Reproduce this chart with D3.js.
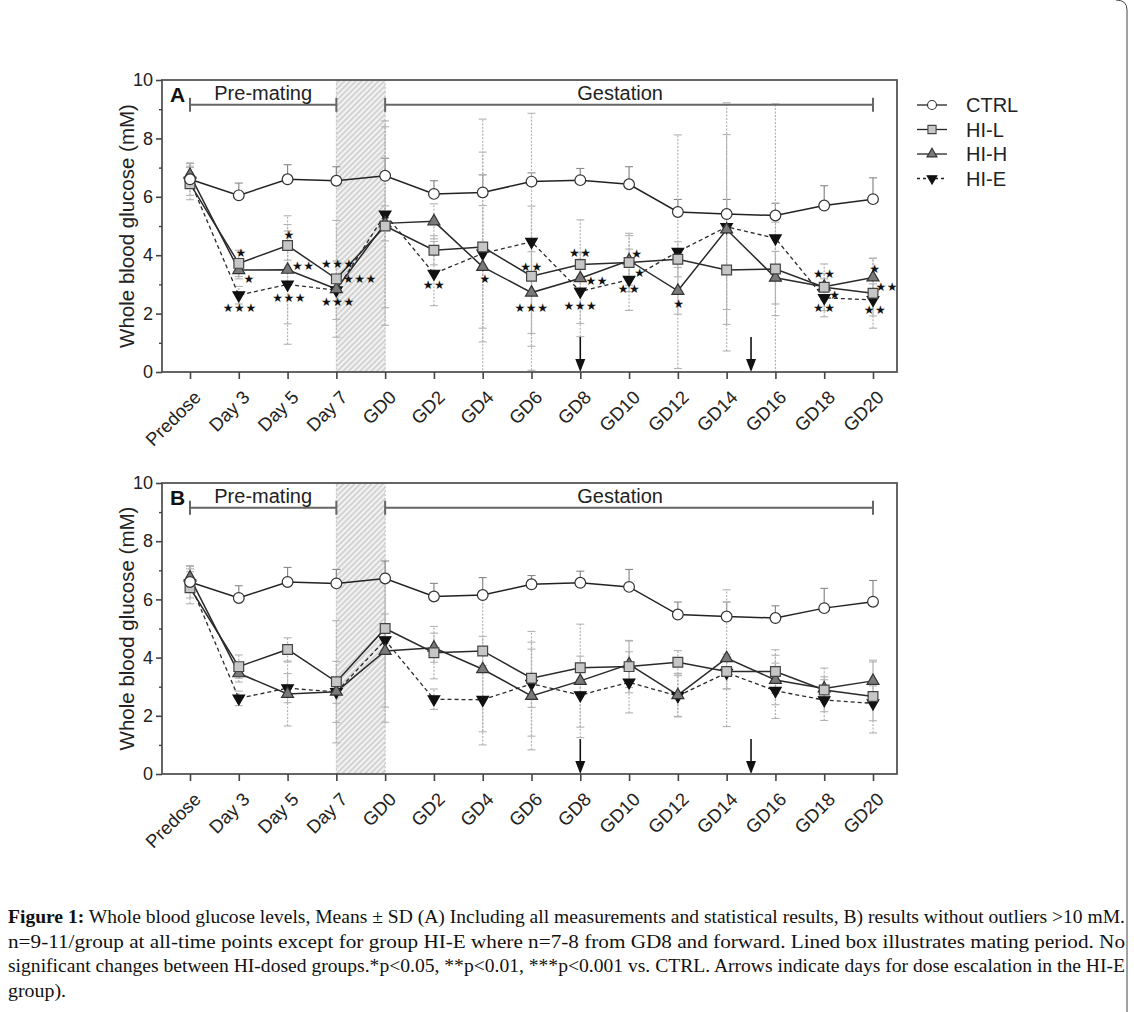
<!DOCTYPE html>
<html>
<head>
<meta charset="utf-8">
<script src="https://cdn.jsdelivr.net/npm/d3@7"></script>
<style>
body { margin: 0; background: #fff; }
svg { display: block; }
</style>
</head>
<body>
<script>
// time points
var categories = ["Predose", "Day 3", "Day 5", "Day 7", "GD0", "GD2", "GD4", "GD6", "GD8", "GD10", "GD12", "GD14", "GD16", "GD18", "GD20"];

// CTRL (same in A and B)
var ctrlMean = [6.6, 6.05, 6.6, 6.55, 6.72, 6.1, 6.15, 6.52, 6.57, 6.43, 5.48, 5.41, 5.36, 5.7, 5.92];
var ctrlSd   = [0.55, 0.42, 0.5, 0.48, 0.6, 0.45, 0.6, 0.3, 0.4, 0.6, 0.43, 0.5, 0.42, 0.68, 0.73];

// panel A, all measurements
var hiLMeanA = [6.45, 3.72, 4.33, 3.19, 5.0, 4.17, 4.28, 3.28, 3.68, 3.75, 3.86, 3.49, 3.53, 2.9, 2.7];
var hiLSdA   = [0.55, 0.45, 0.5, 2.0, 3.4, 0.5, 3.25, 2.4, 0.4, 1.0, 0.6, 1.35, 1.6, 0.8, 1.2];
var hiHMeanA = [6.75, 3.49, 3.5, 2.84, 5.09, 5.16, 3.6, 2.72, 3.21, 3.82, 2.78, 4.88, 3.23, 2.92, 3.24];
var hiHSdA   = [0.4, 0.3, 1.85, 0.4, 0.6, 0.6, 2.1, 1.4, 2.0, 0.85, 0.8, 3.25, 0.9, 0.45, 0.65];
var hiEMeanA = [6.55, 2.63, 3.0, 2.8, 5.4, 3.37, 4.06, 4.46, 2.76, 3.16, 4.12, 4.97, 4.58, 2.54, 2.47];
var hiESdA   = [0.5, 0.3, 2.05, 1.0, 3.2, 1.1, 4.6, 4.4, 1.1, 1.05, 4.0, 4.25, 4.6, 0.65, 0.55];

// panel B, outliers >10 mM removed
var hiLMeanB = [6.4, 3.69, 4.28, 3.17, 5.0, 4.17, 4.23, 3.29, 3.65, 3.69, 3.84, 3.52, 3.52, 2.89, 2.66];
var hiLSdB   = [0.55, 0.4, 0.4, 2.1, 0.5, 0.9, 0.5, 1.0, 0.4, 0.9, 0.4, 0.6, 0.75, 0.75, 1.25];
var hiHMeanB = [6.75, 3.46, 2.75, 2.83, 4.23, 4.34, 3.6, 2.68, 3.2, 3.77, 2.71, 3.98, 3.23, 2.94, 3.2];
var hiHSdB   = [0.4, 0.3, 1.1, 0.4, 2.45, 0.5, 2.6, 1.85, 1.95, 0.8, 0.75, 2.35, 0.85, 0.4, 0.65];
var hiEMeanB = [6.55, 2.6, 2.95, 2.82, 4.6, 2.57, 2.55, 3.1, 2.71, 3.15, 2.68, 3.48, 2.86, 2.54, 2.43];
var hiESdB   = [0.5, 0.25, 0.5, 1.05, 2.3, 0.35, 1.1, 1.8, 1.1, 1.05, 0.7, 0.55, 0.95, 0.7, 0.6];

// significance marks in A: [time point index, glucose value, label]
var starsA = [
  [1.05, 4.09, "*"], [1.21, 3.2, "*"], [1.02, 2.2, "***"],
  [2.03, 4.71, "*"], [2.32, 3.66, "**"], [2.03, 2.57, "***"],
  [3.03, 3.72, "***"], [3.48, 3.2, "***"], [3.03, 2.41, "***"],
  [5.0, 3.01, "**"], [6.05, 3.2, "*"],
  [7.0, 3.63, "**"], [7.0, 2.21, "***"],
  [8.0, 4.09, "**"], [8.34, 3.13, "**"], [8.0, 2.29, "***"],
  [9.16, 4.06, "*"], [9.22, 3.4, "*"], [9.0, 2.87, "**"],
  [10.02, 2.35, "*"],
  [13.0, 3.36, "**"], [13.22, 2.64, "*"], [13.0, 2.21, "**"],
  [14.04, 3.55, "*"], [14.28, 2.92, "**"], [14.04, 2.15, "**"]
];

// dose escalation arrows (time point index), mating period, study periods
var arrowDays = [8, 11.5];
var matingSpan = [3, 4];
var periods = [["Pre-mating", 0, 3], ["Gestation", 4, 14]];
var seriesNames = ["CTRL", "HI-L", "HI-H", "HI-E"];

var captionLines = [
  "Whole blood glucose levels, Means \u00b1 SD (A) Including all measurements and statistical results, B) results without outliers >10 mM.",
  "n=9-11/group at all-time points except for group HI-E where n=7-8 from GD8 and forward. Lined box illustrates mating period. No",
  "significant changes between HI-dosed groups.*p<0.05, **p<0.01, ***p<0.001 vs. CTRL. Arrows indicate days for dose escalation in the HI-E",
  "group)."
];

var sans = "'Liberation Sans', Arial, sans-serif";
var w = 1134, h = 1012;
var left = 162, right = 897;

var style = {
  "CTRL": { sym: d3.symbolCircle, size: 90, fill: "#fff", stroke: "#333", dash: null, rot: 0 },
  "HI-L": { sym: d3.symbolSquare, size: 95, fill: "#c6c6c6", stroke: "#444", dash: null, rot: 0 },
  "HI-H": { sym: d3.symbolTriangle, size: 62, fill: "#7a7a7a", stroke: "#333", dash: null, rot: 0 },
  "HI-E": { sym: d3.symbolTriangle, size: 58, fill: "#111", stroke: "#111", dash: "4,3", rot: 180 }
};

var svg = d3.select("body").append("svg").attr("width", w).attr("height", h);
var defs = svg.append("defs");

var pat = defs.append("pattern").attr("id", "hatch")
  .attr("patternUnits", "userSpaceOnUse").attr("width", 4).attr("height", 4)
  .attr("patternTransform", "rotate(45)");
pat.append("rect").attr("width", 4).attr("height", 4).attr("fill", "#f3f3f3");
pat.append("line").attr("x1", 1).attr("y1", 0).attr("x2", 1).attr("y2", 4)
  .attr("stroke", "#b4b4b4").attr("stroke-width", 1);

var x = d3.scalePoint().domain(categories).range([190, 873]);
function ix(i) { return x(categories[0]) + i * x.step(); }

function drawPanel(top, bottom, label, data, stars) {
  var y = d3.scaleLinear().domain([0, 10]).range([bottom, top]);
  var g = svg.append("g");

  defs.append("clipPath").attr("id", "clip" + label)
    .append("rect").attr("x", left).attr("y", top).attr("width", right - left).attr("height", bottom - top);

  // mating period box
  g.append("rect")
    .attr("x", ix(matingSpan[0])).attr("y", top)
    .attr("width", ix(matingSpan[1]) - ix(matingSpan[0])).attr("height", bottom - top)
    .attr("fill", "url(#hatch)").attr("stroke", "#bbb").attr("stroke-dasharray", "2,2");

  var inner = g.append("g").attr("clip-path", "url(#clip" + label + ")");

  // error bars
  data.forEach(function(s) {
    var up = s.name == "CTRL";
    s.mean.forEach(function(m, i) {
      var cx = x(categories[i]);
      var lo = up ? m : m - s.sd[i], hi = m + s.sd[i];
      var col = up ? "#888" : "#b3b3b3";
      var dash = up ? null : "2,1.5";
      inner.append("line").attr("x1", cx).attr("x2", cx).attr("y1", y(lo)).attr("y2", y(hi))
        .attr("stroke", col).attr("stroke-width", 1.2).attr("stroke-dasharray", dash);
      var ends = up ? [hi] : [lo, hi];
      ends.forEach(function(v) {
        inner.append("line").attr("x1", cx - 4).attr("x2", cx + 4).attr("y1", y(v)).attr("y2", y(v))
          .attr("stroke", col).attr("stroke-width", 1.1);
      });
    });
  });

  // lines
  var line = d3.line().x(function(d, i) { return x(categories[i]); }).y(function(d) { return y(d); });
  data.slice().reverse().forEach(function(s) {
    var st = style[s.name];
    inner.append("path").attr("d", line(s.mean)).attr("fill", "none")
      .attr("stroke", s.name == "CTRL" ? "#222" : "#2a2a2a")
      .attr("stroke-width", s.name == "HI-E" ? 1.3 : 1.5)
      .attr("stroke-dasharray", st.dash);
  });

  // markers
  data.slice().reverse().forEach(function(s) {
    var st = style[s.name];
    inner.selectAll(null).data(s.mean).enter().append("path")
      .attr("d", d3.symbol().type(st.sym).size(st.size))
      .attr("transform", function(d, i) { return "translate(" + x(categories[i]) + "," + y(d) + ") rotate(" + st.rot + ")"; })
      .attr("fill", st.fill).attr("stroke", st.stroke).attr("stroke-width", 1.2);
  });

  // stars
  g.selectAll(null).data(stars).enter().append("text")
    .attr("x", function(d) { return ix(d[0]); })
    .attr("y", function(d) { return y(d[1]); })
    .attr("dy", "0.38em")
    .attr("text-anchor", "middle")
    .attr("font-family", "'DejaVu Sans', sans-serif")
    .attr("font-size", 12)
    .attr("letter-spacing", 0.5)
    .attr("fill", "#111")
    .text(function(d) { return d[2].replace(/\*/g, "\u2605"); });

  // arrows
  arrowDays.forEach(function(d) {
    var ax = ix(d);
    g.append("line").attr("x1", ax).attr("x2", ax).attr("y1", y(1.2)).attr("y2", bottom - 10)
      .attr("stroke", "#111").attr("stroke-width", 1.6);
    g.append("path").attr("d", "M" + (ax - 5) + "," + (bottom - 13) + "L" + (ax + 5) + "," + (bottom - 13) + "L" + ax + "," + bottom + "Z")
      .attr("fill", "#111");
  });

  // period brackets
  periods.forEach(function(p) {
    var x1 = x(categories[p[1]]), x2 = x(categories[p[2]]), by = y(9.15);
    g.append("line").attr("x1", x1).attr("x2", x2).attr("y1", by).attr("y2", by)
      .attr("stroke", "#666").attr("stroke-width", 2);
    [x1, x2].forEach(function(ex) {
      g.append("line").attr("x1", ex).attr("x2", ex).attr("y1", by - 7).attr("y2", by + 7)
        .attr("stroke", "#666").attr("stroke-width", 2);
    });
    g.append("text").attr("x", (x1 + x2) / 2 - (p[0] == "Gestation" ? 9 : 0)).attr("y", by - 5)
      .attr("text-anchor", "middle").attr("font-family", sans).attr("font-size", 20)
      .attr("fill", "#222").text(p[0]);
  });

  // panel letter
  g.append("text").attr("x", 170).attr("y", top + 22).attr("font-family", sans)
    .attr("font-size", 21).attr("font-weight", "bold").attr("fill", "#111").text(label);

  // frame
  g.append("rect").attr("x", left).attr("y", top).attr("width", right - left).attr("height", bottom - top)
    .attr("fill", "none").attr("stroke", "#555").attr("stroke-width", 1.8);

  // y axis
  var ya = g.append("g").attr("transform", "translate(" + left + ",0)")
    .call(d3.axisLeft(y).tickValues([0, 2, 4, 6, 8, 10]).tickSize(6).tickSizeOuter(0).tickPadding(3));
  ya.select(".domain").remove();
  ya.attr("font-size", 18).attr("font-family", sans);
  ya.selectAll("line").attr("stroke", "#444").attr("stroke-width", 1.6);
  ya.selectAll("text").attr("fill", "#222");
  var ym = g.append("g").attr("transform", "translate(" + left + ",0)")
    .call(d3.axisLeft(y).tickValues([1, 3, 5, 7, 9]).tickSize(3).tickFormat(""));
  ym.select(".domain").remove();
  ym.selectAll("line").attr("stroke", "#444").attr("stroke-width", 1.4);

  g.append("text")
    .attr("transform", "translate(134," + ((top + bottom) / 2) + ") rotate(-90)")
    .attr("text-anchor", "middle").attr("font-family", sans).attr("font-size", 20.5)
    .attr("fill", "#222").text("Whole blood glucose (mM)");

  // x axis
  var xa = g.append("g").attr("transform", "translate(0," + bottom + ")")
    .call(d3.axisBottom(x).tickSize(7).tickSizeOuter(0));
  xa.select(".domain").remove();
  xa.attr("font-size", 18.5).attr("font-family", sans);
  xa.selectAll("line").attr("stroke", "#444").attr("stroke-width", 1.6);
  xa.selectAll("text")
    .attr("x", 0).attr("y", 0).attr("dy", "0.35em")
    .attr("text-anchor", "end").attr("fill", "#222")
    .attr("transform", "translate(7,22) rotate(-45)");
}

drawPanel(80, 372, "A", [
  { name: "CTRL", mean: ctrlMean, sd: ctrlSd },
  { name: "HI-L", mean: hiLMeanA, sd: hiLSdA },
  { name: "HI-H", mean: hiHMeanA, sd: hiHSdA },
  { name: "HI-E", mean: hiEMeanA, sd: hiESdA }
], starsA);

drawPanel(483, 774, "B", [
  { name: "CTRL", mean: ctrlMean, sd: ctrlSd },
  { name: "HI-L", mean: hiLMeanB, sd: hiLSdB },
  { name: "HI-H", mean: hiHMeanB, sd: hiHSdB },
  { name: "HI-E", mean: hiEMeanB, sd: hiESdB }
], []);

// legend
var lg = svg.append("g");
seriesNames.forEach(function(n, i) {
  var st = style[n];
  var ly = 105 + i * 24.5;
  lg.append("line").attr("x1", 917).attr("x2", 947).attr("y1", ly).attr("y2", ly)
    .attr("stroke", "#222").attr("stroke-width", 1.3).attr("stroke-dasharray", st.dash ? "3,3" : null);
  lg.append("path").attr("d", d3.symbol().type(st.sym).size(st.size * 0.7))
    .attr("transform", "translate(932," + ly + ") rotate(" + st.rot + ")")
    .attr("fill", st.fill).attr("stroke", st.stroke).attr("stroke-width", 1.1);
  lg.append("text").attr("x", 966).attr("y", ly).attr("dy", "0.36em")
    .attr("font-family", sans).attr("font-size", 20).attr("fill", "#222").text(n);
});

// caption
var cap = svg.append("g").attr("font-family", "'Liberation Serif', 'Times New Roman', serif")
  .attr("font-size", 18.5).attr("fill", "#111");
captionLines.forEach(function(t, i) {
  var tx = cap.append("text").attr("x", 8).attr("y", 923 + i * 24.7);
  if (i == 0) {
    tx.append("tspan").attr("font-weight", "bold").text("Figure 1:");
    tx.append("tspan").text(" " + t);
  } else {
    tx.text(t);
  }
  if (i < captionLines.length - 1) {
    tx.attr("textLength", 1117).attr("lengthAdjust", "spacingAndGlyphs");
  } else {
    tx.attr("textLength", 58).attr("lengthAdjust", "spacingAndGlyphs");
  }
});

// page edge at right
svg.append("path").attr("d", "M1116,0 Q1127,0 1127,10 L1127,1012")
  .attr("fill", "none").attr("stroke", "#444").attr("stroke-width", 1);
</script>
</body>
</html>
